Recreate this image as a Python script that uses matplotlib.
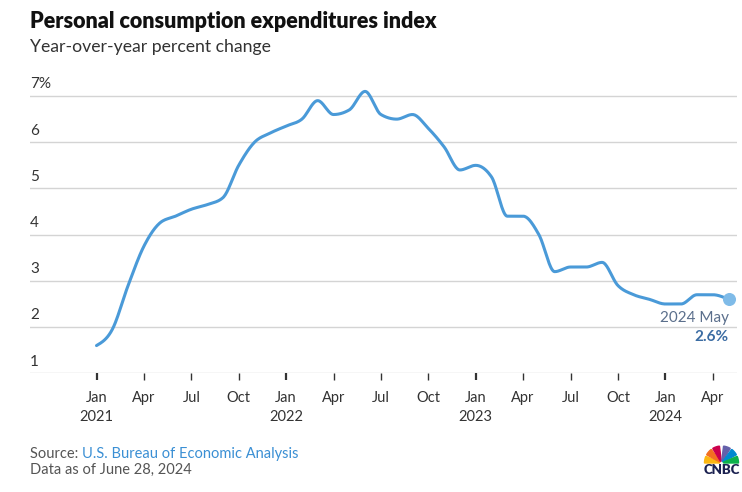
import numpy as np
import matplotlib.pyplot as plt
from matplotlib.patches import Wedge

plt.rcParams['font.family'] = ['Lato', 'DejaVu Sans']

# monthly PCE YoY %, Jan 2021 .. May 2024
pce_2021 = [1.6, 1.95, 2.9, 3.75, 4.25, 4.4, 4.55, 4.65, 4.8, 5.5, 6.0, 6.2]
pce_2022 = [6.35, 6.5, 6.9, 6.6, 6.7, 7.1, 6.6, 6.5, 6.6, 6.3, 5.9, 5.4]
pce_2023 = [5.5, 5.25, 4.4, 4.4, 4.0, 3.2, 3.3, 3.3, 3.4, 2.9, 2.7, 2.6]
pce_2024 = [2.5, 2.5, 2.7, 2.7, 2.6]
values = pce_2021 + pce_2022 + pce_2023 + pce_2024
months = np.arange(len(values))

tick_months = ['Jan', 'Apr', 'Jul', 'Oct']
years = ['2021', '2022', '2023', '2024']
y_levels = [1, 2, 3, 4, 5, 6, 7]

LINE = '#4a9ad8'
GRID = '#d4d4d4'
TXT = '#333333'


def monotone_curve(x, y, n=20):
    # monotone cubic (like d3 curveMonotoneX)
    x = np.asarray(x, float)
    y = np.asarray(y, float)
    h = np.diff(x)
    s = np.diff(y) / h
    m = np.zeros_like(y)
    for i in range(1, len(y) - 1):
        p = (s[i - 1] * h[i] + s[i] * h[i - 1]) / (h[i - 1] + h[i])
        m[i] = (np.sign(s[i - 1]) + np.sign(s[i])) * min(abs(s[i - 1]), abs(s[i]), 0.5 * abs(p))
    m[0] = (3 * s[0] - m[1]) / 2
    m[-1] = (3 * s[-1] - m[-2]) / 2
    xs, ys = [], []
    for i in range(len(h)):
        t = np.linspace(0, 1, n, endpoint=False)
        h00 = 2 * t**3 - 3 * t**2 + 1
        h10 = t**3 - 2 * t**2 + t
        h01 = -2 * t**3 + 3 * t**2
        h11 = t**3 - t**2
        xs.append(x[i] + t * h[i])
        ys.append(h00 * y[i] + h10 * h[i] * m[i] + h01 * y[i + 1] + h11 * h[i] * m[i + 1])
    xs.append([x[-1]])
    ys.append([y[-1]])
    return np.concatenate(xs), np.concatenate(ys)


fig = plt.figure(figsize=(7.42, 4.92), dpi=100)
W, H = 742, 492
x_left, x_right = 30, 737
px_per_month = 15.8
x0 = 96.5
y_top = 96 - 0.3 * 46.1
y_bot = 373.3
ax = fig.add_axes([x_left / W, 1 - y_bot / H, (x_right - x_left) / W, (y_bot - y_top) / H])
ax.set_xlim((x_left - x0) / px_per_month, (x_right - x0) / px_per_month)
ax.set_ylim(1, 7.3)

for s in ax.spines.values():
    s.set_visible(False)

for v in y_levels:
    ax.axhline(v, color=GRID, lw=1, zorder=1)
    lab = f'{v}%' if v == 7 else str(v)
    ax.text((x_left - x0) / px_per_month, v + 0.1, lab, fontsize=11, color=TXT,
            ha='left', va='bottom')

ax.set_yticks([])
ticks = list(range(0, len(values), 3))
labels = []
for t in ticks:
    lab = tick_months[(t % 12) // 3]
    if t % 12 == 0:
        lab += '\n' + years[t // 12]
    labels.append(lab)
ax.set_xticks(ticks)
ax.set_xticklabels(labels, fontsize=10.5, color=TXT, linespacing=1.45, va='top')
ax.tick_params(axis='x', length=5, width=1, color=TXT, pad=8)
for t, tl in zip(ticks, ax.xaxis.get_major_ticks()):
    if t % 12 == 0:
        tl.tick1line.set_markeredgewidth(1.6)

cx, cy = monotone_curve(months, values)
ax.plot(cx, cy, color=LINE, lw=2.2, solid_capstyle='round', zorder=3, clip_on=False)
ax.scatter([months[-1]], [values[-1]], s=70, color='#7fbbe8', zorder=4, clip_on=False)
ax.text(months[-1], values[-1] - 0.41, '2024 May', color='#5b6f8c', fontsize=11,
        ha='right', va='center')
ax.text(months[-1], values[-1] - 0.82, '2.6%', color='#3b6ca3', fontsize=11,
        fontweight='bold', ha='right', va='center')

fig.text(30 / W, 1 - 22 / H, 'Personal consumption expenditures index', fontsize=15.5,
         fontweight='heavy', color='#111111', ha='left', va='center')
fig.text(30 / W, 1 - 47 / H, 'Year-over-year percent change', fontsize=12.7,
         color=TXT, ha='left', va='center')

src = fig.text(30 / W, 1 - 454 / H, 'Source: ', fontsize=10.5, color='#555555',
               ha='left', va='center')
fig.canvas.draw()
bb = src.get_window_extent()
fig.text(bb.x1 / W, 1 - 454 / H, 'U.S. Bureau of Economic Analysis', fontsize=10.5,
         color='#3a8fd4', ha='left', va='center')
fig.text(30 / W, 1 - 470 / H, 'Data as of June 28, 2024', fontsize=10.5,
         color='#555555', ha='left', va='center')

# small CNBC peacock
lax = fig.add_axes([700 / W, 1 - 480 / H, 40 / W, 40 / H])
lax.set_xlim(0, 40)
lax.set_ylim(0, 40)
lax.axis('off')
feathers = ['#fcb711', '#f37021', '#cc004c', '#6460aa', '#0089d0', '#0db14b']
angles = [(157, 180), (127, 151), (97, 121), (59, 83), (29, 53), (0, 23)]
for c, (a1, a2) in zip(feathers, angles):
    lax.add_patch(Wedge((21.5, 17), 17, a1, a2, width=15, color=c))
lax.text(21.5, 9.5, 'CNBC', fontsize=9.5, fontweight='heavy', color='#1b2150',
         ha='center', va='center')

fig.savefig('out.png', dpi=100)
